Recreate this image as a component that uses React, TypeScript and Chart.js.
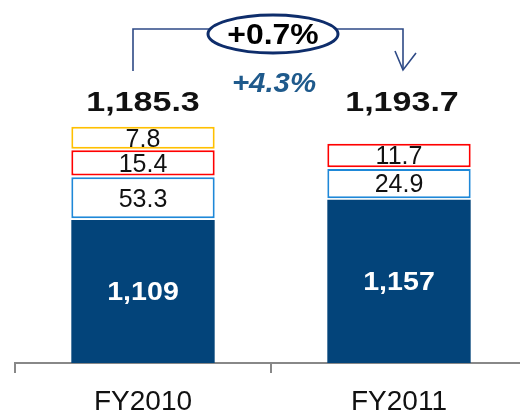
import React, { useEffect, useRef } from "react";
import { Chart, registerables } from "chart.js";

Chart.register(...registerables);

// ---- data ----
const categories = ["FY2010", "FY2011"];
const baseValues = [1109, 1157];
const blueValues: (number | null)[] = [53.3, 24.9];
const redValues: (number | null)[] = [15.4, 11.7];
const yellowValues: (number | null)[] = [7.8, null];
const totals = [1185.3, 1193.7];
const totalGrowth = "+0.7%";
const baseGrowth = "+4.3%";

// ---- layout / style constants ----
const Y_MIN = 766;
const Y_MAX = 1636;
const BOX_PAD = 45; // extra display height for label boxes (value units)
const BOX_GAP = 4;

const NAVY = "#03447A";
const BLUE = "#1E88D8";
const RED = "#FF0000";
const YELLOW = "#FFC000";
const FONT = "'Liberation Sans', Arial, sans-serif";

function buildBoxes() {
  const series = [blueValues, redValues, yellowValues];
  const out: any[][] = series.map(() => []);
  categories.forEach((_, i) => {
    let cur = baseValues[i];
    series.forEach((s, k) => {
      const v = s[i];
      if (v == null) {
        out[k].push(null);
        return;
      }
      const start = cur + BOX_GAP;
      const end = start + v + BOX_PAD;
      out[k].push([start, end]);
      cur = end;
    });
  });
  return out;
}

function drawText(
  ctx: CanvasRenderingContext2D,
  text: string,
  x: number,
  y: number,
  font: string,
  color: string,
  sx = 1
) {
  ctx.save();
  ctx.translate(x, y);
  ctx.scale(sx, 1);
  ctx.font = font;
  ctx.fillStyle = color;
  ctx.textAlign = "center";
  ctx.textBaseline = "middle";
  ctx.fillText(text, 0, 0);
  ctx.restore();
}

const fmtInt = (v: number) => v.toLocaleString("en-US");
const fmt1 = (v: number) =>
  v.toLocaleString("en-US", { minimumFractionDigits: 1, maximumFractionDigits: 1 });

const labelPlugin = {
  id: "customLabels",
  afterDatasetsDraw(chart: any) {
    const ctx: CanvasRenderingContext2D = chart.ctx;
    const top = chart.chartArea.top;
    const bottom = chart.chartArea.bottom;
    const baseMeta = chart.getDatasetMeta(0);
    const b0 = baseMeta.data[0];
    const b1 = baseMeta.data[1];

    // bracket arrow
    const lx = b0.x - 10;
    const rx = b1.x + 4;
    const ly = top + 29;
    ctx.save();
    ctx.strokeStyle = "#2E4A86";
    ctx.lineWidth = 1.6;
    ctx.beginPath();
    ctx.moveTo(lx, top + 71);
    ctx.lineTo(lx, ly);
    ctx.lineTo(rx, ly);
    ctx.lineTo(rx, top + 70);
    ctx.stroke();
    ctx.beginPath();
    ctx.moveTo(rx - 8, top + 51);
    ctx.lineTo(rx, top + 70);
    ctx.lineTo(rx + 13, top + 53);
    ctx.stroke();
    // ellipse
    const ex = (b0.x + b1.x) / 2 + 2;
    ctx.beginPath();
    ctx.ellipse(ex, top + 34, 65, 19, 0, 0, Math.PI * 2);
    ctx.fillStyle = "#fff";
    ctx.fill();
    ctx.lineWidth = 3;
    ctx.strokeStyle = "#0E2D6B";
    ctx.stroke();
    ctx.restore();

    drawText(ctx, totalGrowth, ex, top + 36, `bold 29px ${FONT}`, "#000", 1.1);
    drawText(ctx, baseGrowth, ex + 1, top + 84, `italic bold 28px ${FONT}`, "#1F5A8C", 1.05);

    // totals
    totals.forEach((t, i) => {
      const el = baseMeta.data[i];
      drawText(ctx, fmt1(t), el.x + (i === 0 ? 0 : 3), top + 104, `bold 27px ${FONT}`, "#111", 1.26);
    });

    // base bar labels
    baseMeta.data.forEach((el: any, i: number) => {
      const b = Math.min(el.base, bottom);
      drawText(ctx, fmtInt(baseValues[i]), el.x, (el.y + b) / 2 + 1, `bold 26px ${FONT}`, "#fff", 1.1);
    });

    // box labels
    const series = [blueValues, redValues, yellowValues];
    series.forEach((s, k) => {
      const meta = chart.getDatasetMeta(k + 1);
      meta.data.forEach((el: any, i: number) => {
        const v = s[i];
        if (v == null) return;
        drawText(ctx, fmt1(v), el.x, (el.y + el.base) / 2 + 2, `25px ${FONT}`, "#111", 1);
      });
    });
  },
};

export default function App() {
  const ref = useRef<HTMLCanvasElement | null>(null);

  useEffect(() => {
    document.body.style.overflow = "hidden";
    const boxes = buildBoxes();
    const boxColors = [BLUE, RED, YELLOW];
    const chart = new Chart(ref.current!, {
      type: "bar",
      data: {
        labels: categories,
        datasets: [
          {
            data: baseValues,
            backgroundColor: NAVY,
            borderWidth: 0,
            borderSkipped: false,
            grouped: false,
          } as any,
          ...boxes.map((d, k) => ({
            data: d,
            backgroundColor: "#fff",
            borderColor: boxColors[k],
            borderWidth: 2,
            borderSkipped: false,
            grouped: false,
          })),
        ],
      },
      options: {
        animation: false,
        responsive: false,
        maintainAspectRatio: false,
        layout: { padding: { left: 15, right: 1, top: 0, bottom: 0 } },
        datasets: {
          bar: { barPercentage: 0.56, categoryPercentage: 1 },
        },
        plugins: {
          legend: { display: false },
          tooltip: { enabled: false },
        },
        scales: {
          x: {
            offset: true,
            grid: {
              display: true,
              offset: true,
              drawOnChartArea: false,
              drawTicks: true,
              tickLength: 10,
              color: "#888",
              lineWidth: 2,
            },
            border: { display: true, color: "#888", width: 2 },
            ticks: {
              color: "#111",
              font: { family: FONT, size: 28 },
              padding: 12,
            },
            afterFit: (scale: any) => {
              scale.height = 52;
            },
          },
          y: {
            display: false,
            min: Y_MIN,
            max: Y_MAX,
          },
        },
      },
      plugins: [labelPlugin],
    });
    return () => chart.destroy();
  }, []);

  return (
    <div style={{ position: "fixed", left: 0, top: 0, width: 528, height: 415 }}>
      <canvas ref={ref} width={528} height={415} style={{ width: 528, height: 415 }} />
    </div>
  );
}
